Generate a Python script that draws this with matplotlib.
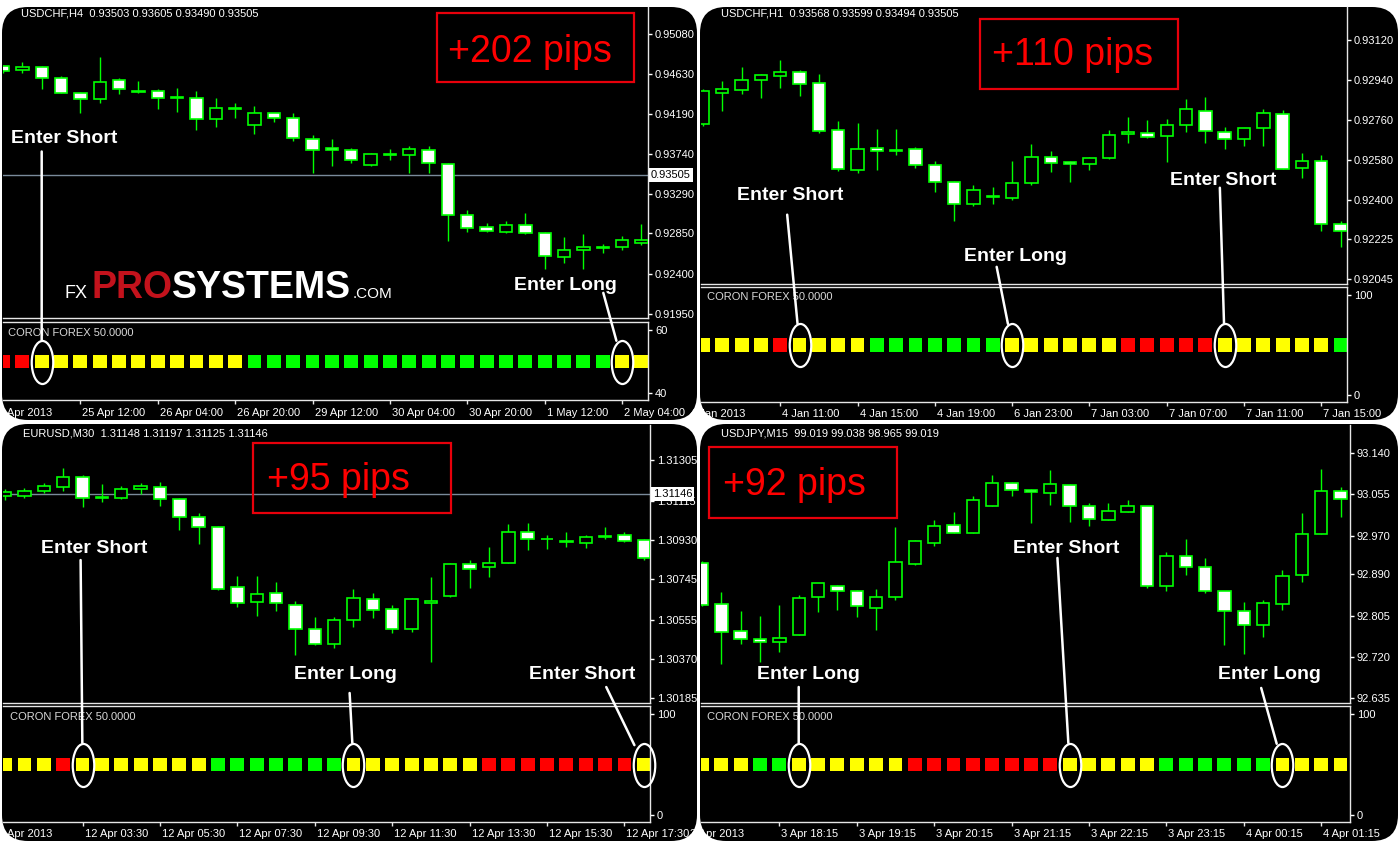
import numpy as np
import matplotlib
matplotlib.use("Agg")
import matplotlib.pyplot as plt
from matplotlib.patches import FancyBboxPatch, Rectangle, ConnectionPatch
from matplotlib.path import Path
from matplotlib.transforms import Affine2D, blended_transform_factory, offset_copy

plt.rcParams['font.family'] = ['Liberation Sans', 'DejaVu Sans']

W, H = 1400, 843
GREEN = '#00ff00'
SIG_COLORS = {'R': '#ff0000', 'Y': '#ffff00', 'G': '#00ff00'}

# ======================
# Data: USDCHF H4 (top left)
# ======================
tl_header = "USDCHF,H4  0.93503 0.93605 0.93490 0.93505"
tl_open = [0.94718, 0.94676, 0.94714, 0.94587, 0.94426, 0.94351, 0.94564, 0.94448, 0.94445, 0.94373,
           0.94370, 0.94127, 0.94254, 0.94059, 0.94194, 0.94142, 0.93910, 0.93805, 0.93783, 0.93614,
           0.93734, 0.93723, 0.93786, 0.93625, 0.93053, 0.92919, 0.92866, 0.92945, 0.92855, 0.92586,
           0.92668, 0.92690, 0.92694, 0.92743]
tl_high = [0.94733, 0.94770, 0.94725, 0.94613, 0.94433, 0.94819, 0.94587, 0.94557, 0.94463, 0.94482,
           0.94445, 0.94362, 0.94314, 0.94276, 0.94201, 0.94194, 0.93947, 0.93910, 0.93809, 0.93745,
           0.93790, 0.93827, 0.93827, 0.93640, 0.93109, 0.92967, 0.92986, 0.93079, 0.92863, 0.92810,
           0.92844, 0.92735, 0.92818, 0.92956]
tl_low = [0.94650, 0.94643, 0.94471, 0.94418, 0.94194, 0.94314, 0.94407, 0.94418, 0.94239, 0.94209,
          0.94003, 0.94044, 0.94138, 0.93962, 0.94097, 0.93884, 0.93521, 0.93603, 0.93640, 0.93603,
          0.93677, 0.93521, 0.93528, 0.92762, 0.92866, 0.92870, 0.92859, 0.92844, 0.92451, 0.92518,
          0.92451, 0.92631, 0.92668, 0.92717]
tl_close = [0.94665, 0.94714, 0.94590, 0.94426, 0.94351, 0.94549, 0.94463, 0.94430, 0.94362, 0.94366,
            0.94134, 0.94258, 0.94246, 0.94194, 0.94145, 0.93921, 0.93783, 0.93779, 0.93670, 0.93734,
            0.93727, 0.93790, 0.93633, 0.93061, 0.92911, 0.92881, 0.92949, 0.92855, 0.92593, 0.92668,
            0.92698, 0.92698, 0.92780, 0.92780]
tl_signal = list("RRYYYYYYYYYYYGGGGGGGGGGGGGGGGGGGYY")
tl_price_ticks = [0.95080, 0.94630, 0.94190, 0.93740, 0.93290, 0.92850, 0.92400, 0.91950]
tl_ind_ticks = [60, 40]
tl_last_price = 0.93505
tl_time_labels = ["24 Apr 2013", "25 Apr 12:00", "26 Apr 04:00", "26 Apr 20:00", "29 Apr 12:00",
                  "30 Apr 04:00", "30 Apr 20:00", "1 May 12:00", "2 May 04:00"]
tl_pips = "+202 pips"

# ======================
# Data: USDCHF H1 (top right)
# ======================
tr_header = "USDCHF,H1  0.93568 0.93599 0.93494 0.93505"
tr_open = [0.92740, 0.92883, 0.92895, 0.92938, 0.92958, 0.92977, 0.92928, 0.92715, 0.92535, 0.92635,
           0.92625, 0.92628, 0.92557, 0.92482, 0.92385, 0.92419, 0.92410, 0.92475, 0.92595, 0.92572,
           0.92563, 0.92590, 0.92695, 0.92703, 0.92688, 0.92736, 0.92800, 0.92707, 0.92673, 0.92725,
           0.92785, 0.92545, 0.92578, 0.92291]
tr_high = [0.92898, 0.92935, 0.92996, 0.92965, 0.93028, 0.92983, 0.92965, 0.92755, 0.92745, 0.92718,
           0.92718, 0.92640, 0.92574, 0.92485, 0.92470, 0.92460, 0.92575, 0.92653, 0.92623, 0.92575,
           0.92595, 0.92713, 0.92773, 0.92760, 0.92766, 0.92853, 0.92863, 0.92728, 0.92725, 0.92811,
           0.92803, 0.92610, 0.92605, 0.92306]
tr_low = [0.92733, 0.92800, 0.92875, 0.92860, 0.92905, 0.92868, 0.92700, 0.92530, 0.92520, 0.92535,
          0.92605, 0.92545, 0.92436, 0.92306, 0.92373, 0.92385, 0.92403, 0.92470, 0.92527, 0.92481,
          0.92535, 0.92583, 0.92658, 0.92680, 0.92571, 0.92706, 0.92658, 0.92632, 0.92643, 0.92643,
          0.92538, 0.92500, 0.92264, 0.92190]
tr_close = [0.92890, 0.92901, 0.92938, 0.92961, 0.92977, 0.92920, 0.92710, 0.92541, 0.92628, 0.92623,
            0.92622, 0.92560, 0.92481, 0.92385, 0.92448, 0.92416, 0.92478, 0.92595, 0.92568, 0.92563,
            0.92590, 0.92692, 0.92706, 0.92685, 0.92736, 0.92808, 0.92710, 0.92673, 0.92725, 0.92790,
            0.92541, 0.92578, 0.92291, 0.92261]
tr_signal = list("YYYYRYYYYGGGGGGGYYYYYYRRRRRYYYYYYG")
tr_price_ticks = [0.93120, 0.92940, 0.92760, 0.92580, 0.92400, 0.92225, 0.92045]
tr_ind_ticks = [100, 0]
tr_time_labels = ["4 Jan 2013", "4 Jan 11:00", "4 Jan 15:00", "4 Jan 19:00", "6 Jan 23:00",
                  "7 Jan 03:00", "7 Jan 07:00", "7 Jan 11:00", "7 Jan 15:00"]
tr_pips = "+110 pips"

# ======================
# Data: EURUSD M30 (bottom left)
# ======================
bl_header = "EURUSD,M30  1.31148 1.31197 1.31125 1.31146"
bl_open = [1.31136, 1.31136, 1.31159, 1.31180, 1.31227, 1.31130, 1.31125, 1.31167, 1.31177, 1.31120,
           1.31036, 1.30992, 1.30707, 1.30639, 1.30678, 1.30623, 1.30513, 1.30440, 1.30553, 1.30650,
           1.30605, 1.30513, 1.30634, 1.30667, 1.30815, 1.30804, 1.30822, 1.30968, 1.30935, 1.30923,
           1.30916, 1.30943, 1.30953, 1.30929]
bl_high = [1.31167, 1.31172, 1.31198, 1.31266, 1.31234, 1.31192, 1.31183, 1.31195, 1.31203, 1.31128,
           1.31054, 1.30995, 1.30760, 1.30760, 1.30733, 1.30642, 1.30566, 1.30566, 1.30697, 1.30681,
           1.30623, 1.30658, 1.30757, 1.30819, 1.30835, 1.30898, 1.31004, 1.31010, 1.30953, 1.30965,
           1.30953, 1.30989, 1.30968, 1.30934]
bl_low = [1.31117, 1.31125, 1.31148, 1.31161, 1.31083, 1.31106, 1.31120, 1.31145, 1.31090, 1.30976,
          1.30910, 1.30694, 1.30612, 1.30573, 1.30597, 1.30388, 1.30435, 1.30420, 1.30518, 1.30561,
          1.30493, 1.30495, 1.30354, 1.30660, 1.30702, 1.30757, 1.30819, 1.30882, 1.30885, 1.30895,
          1.30893, 1.30934, 1.30921, 1.30835]
bl_close = [1.31156, 1.31159, 1.31184, 1.31227, 1.31128, 1.31126, 1.31167, 1.31184, 1.31120, 1.31036,
            1.30992, 1.30699, 1.30634, 1.30675, 1.30631, 1.30513, 1.30440, 1.30553, 1.30655, 1.30600,
            1.30513, 1.30652, 1.30644, 1.30816, 1.30791, 1.30822, 1.30968, 1.30934, 1.30932, 1.30920,
            1.30942, 1.30946, 1.30924, 1.30846]
bl_signal = list("YYYRYYYYYYYGGGGGGGYYYYYYYRRRRRRRRY")
bl_price_ticks = [1.31305, 1.31115, 1.30930, 1.30745, 1.30555, 1.30370, 1.30185]
bl_ind_ticks = [100, 0]
bl_last_price = 1.31146
bl_time_labels = ["12 Apr 2013", "12 Apr 03:30", "12 Apr 05:30", "12 Apr 07:30", "12 Apr 09:30",
                  "12 Apr 11:30", "12 Apr 13:30", "12 Apr 15:30", "12 Apr 17:30"]
bl_pips = "+95 pips"

# ======================
# Data: USDJPY M15 (bottom right)
# ======================
br_header = "USDJPY,M15  99.019 99.038 98.965 99.019"
br_open = [92.913, 92.829, 92.774, 92.757, 92.750, 92.765, 92.844, 92.866, 92.856, 92.821,
           92.843, 92.912, 92.954, 92.991, 92.975, 93.032, 93.078, 93.064, 93.057, 93.075,
           93.032, 93.002, 93.018, 93.032, 92.866, 92.929, 92.906, 92.856, 92.814, 92.786,
           92.829, 92.889, 92.973, 93.061]
br_high = [92.917, 92.853, 92.815, 92.805, 92.827, 92.848, 92.872, 92.869, 92.858, 92.860,
           92.987, 92.960, 93.002, 93.018, 93.052, 93.095, 93.081, 93.066, 93.106, 93.077,
           93.037, 93.037, 93.044, 93.032, 92.936, 92.963, 92.924, 92.856, 92.834, 92.838,
           92.899, 93.016, 93.108, 93.071]
br_low = [92.824, 92.706, 92.746, 92.709, 92.731, 92.765, 92.812, 92.816, 92.803, 92.776,
          92.838, 92.910, 92.948, 92.975, 92.975, 93.032, 93.052, 92.997, 93.033, 92.999,
          92.989, 93.002, 93.018, 92.863, 92.855, 92.889, 92.851, 92.745, 92.726, 92.762,
          92.817, 92.874, 92.973, 93.009]
br_close = [92.827, 92.772, 92.757, 92.750, 92.759, 92.841, 92.872, 92.856, 92.824, 92.843,
            92.915, 92.958, 92.989, 92.975, 93.044, 93.078, 93.063, 93.059, 93.076, 93.032,
            93.005, 93.020, 93.032, 92.866, 92.928, 92.906, 92.856, 92.814, 92.786, 92.832,
            92.887, 92.973, 93.061, 93.046]
br_signal = list("YYYGGYYYYYYRRRRRRRRYYYYYGGGGGGYYYY")
br_price_ticks = [93.140, 93.055, 92.970, 92.890, 92.805, 92.720, 92.635]
br_ind_ticks = [100, 0]
br_time_labels = ["3 Apr 2013", "3 Apr 18:15", "3 Apr 19:15", "3 Apr 20:15", "3 Apr 21:15",
                  "3 Apr 22:15", "3 Apr 23:15", "4 Apr 00:15", "4 Apr 01:15"]
br_pips = "+92 pips"


# ======================
# Helpers (pixel layout, y measured from the top)
# ======================
def fx(x):
    return x / W


def fy(y):
    return 1 - y / H


def rect(x0, y0, x1, y1):
    return [fx(x0), fy(y1), (x1 - x0) / W, (y1 - y0) / H]


ELLIPSE = Path.unit_circle().transformed(Affine2D().scale(0.5, 1.0))
AXIS_COLOR = '#e6e6e6'


def draw_panel(fig, p):
    x0, y0, x1, y1 = p['panel']
    bg = FancyBboxPatch((fx(x0), fy(y1)), (x1 - x0) / W, (y1 - y0) / H,
                        boxstyle=f"round,pad=0,rounding_size={26 / W}",
                        mutation_aspect=W / H, transform=fig.transFigure,
                        fc='black', ec='none', zorder=-5)
    fig.add_artist(bg)

    ax = fig.add_axes(rect(*p['main']))
    ind = fig.add_axes(rect(*p['ind']))
    n = len(p['open'])
    x = np.arange(n)

    for a in (ax, ind):
        a.set_facecolor('none')
        a.set_xlim(p['xlim'])
        a.spines['left'].set_visible(False)
        for s in ('right', 'top', 'bottom'):
            a.spines[s].set_color(AXIS_COLOR)
            a.spines[s].set_linewidth(1)
        a.yaxis.tick_right()
        a.tick_params(axis='y', colors='white', length=3, width=1, pad=2, labelsize=8)
    ax.spines['top'].set_visible(False)

    # candles
    o, h, l, c = (np.array(p[k]) for k in ('open', 'high', 'low', 'close'))
    ax.vlines(x, l, h, color=GREEN, lw=1, zorder=2)
    faces = ['white' if cc < oo else 'black' for oo, cc in zip(o, c)]
    ax.bar(x, np.abs(c - o), bottom=np.minimum(o, c), width=0.64,
           color=faces, edgecolor=GREEN, linewidth=1.2, zorder=3)
    ax.set_ylim(p['ylim'])
    ax.set_xticks([])
    ax.set_yticks(p['price_ticks'], [f"{v:.{p['dec']}f}" for v in p['price_ticks']])

    if p.get('last') is not None:
        ax.axhline(p['last'], color='#7a8a9a', lw=1, zorder=1)
        ax.annotate(f"{p['last']:.{p['dec']}f}", xy=(1, p['last']),
                    xycoords=('axes fraction', 'data'), xytext=(3, 0),
                    textcoords='offset pixels', ha='left', va='center',
                    fontsize=8, color='black', annotation_clip=False, zorder=6,
                    bbox=dict(boxstyle='square,pad=0.15', fc='white', ec='none'))

    # indicator row
    ind.set_ylim(p['ind_ylim'])
    ind.set_yticks(p['ind_ticks'])
    ind.scatter(x, np.full(n, 50), marker='s', s=100, linewidths=0,
                c=[SIG_COLORS[k] for k in p['signal']], zorder=2)
    ticks = list(range(4, n, 4))
    ind.set_xticks(ticks, [])
    ind.tick_params(axis='x', colors=AXIS_COLOR, length=3, width=1)

    # time labels, left aligned on the ticks, clipped by the rounded panel
    ty = fy(p['time_y'])
    base = blended_transform_factory(ind.transData, fig.transFigure)
    first = fig.text(p['xlim'][0], ty, p['time_labels'][0], fontsize=8, color='white',
                     ha='left', va='center',
                     transform=offset_copy(base, fig=fig, x=-11, y=0, units='dots'))
    first.set_clip_path(bg)
    for xt, lbl in zip(ticks, p['time_labels'][1:]):
        t = fig.text(xt, ty, lbl, fontsize=8, color='white', ha='left', va='center',
                     transform=offset_copy(base, fig=fig, x=2, y=0, units='dots'))
        t.set_clip_path(bg)

    # header and indicator name
    hx, hy = p['header_xy']
    fig.text(fx(hx), fy(hy), p['header'], fontsize=8, color='white', va='center')
    ix, iy = p['ind_label_xy']
    fig.text(fx(ix), fy(iy), "CORON FOREX 50.0000", fontsize=8, color='#d8d8d8', va='center')

    # profit box
    bx0, by0, bx1, by1 = p['pips_box']
    fig.add_artist(Rectangle((fx(bx0), fy(by1)), (bx1 - bx0) / W, (by1 - by0) / H,
                             transform=fig.transFigure, fill=False, ec='#e8000b', lw=1.6, zorder=6))
    px, py = p['pips_xy']
    fig.text(fx(px), fy(py), p['pips'], fontsize=27, color='#ff0000', va='baseline', zorder=7)

    # signal annotations
    for label, sig, tx, tyv, lx, ly in p['notes']:
        ax.text(tx, tyv, label, color='white', fontsize=14, fontweight='bold',
                ha='center', va='baseline', zorder=5)
        ind.plot(sig, 50, marker=ELLIPSE, ms=31, mfc='none', mec='white', mew=1.6,
                 clip_on=False, zorder=4)
        con = ConnectionPatch(xyA=(lx, ly), coordsA=ax.transData,
                              xyB=(sig, 50), coordsB=ind.transData,
                              color='white', lw=1.8, shrinkB=15.5, zorder=8)
        fig.add_artist(con)
    return ax, ind, bg


panels = [
    dict(panel=(2, 7, 697, 420), main=(3, 7, 648, 318), ind=(3, 322, 648, 400),
         xlim=(0.0, 33.34), ylim=(0.91905, 0.95383), ind_ylim=(37.78, 62.54), dec=5,
         open=tl_open, high=tl_high, low=tl_low, close=tl_close, signal=tl_signal,
         price_ticks=tl_price_ticks, ind_ticks=tl_ind_ticks, last=tl_last_price,
         time_labels=tl_time_labels, time_y=413, header=tl_header, header_xy=(21, 13),
         ind_label_xy=(8, 333), pips=tl_pips, pips_box=(437, 13, 634, 82), pips_xy=(448, 62),
         notes=[("Enter Short", 2, 3.16, 0.93863, 2.0, 0.93767),
                ("Enter Long", 32, 29.07, 0.92214, 31.03, 0.92186)]),
    dict(panel=(700, 7, 1398, 420), main=(701, 7, 1347, 284), ind=(701, 287, 1347, 402),
         xlim=(-0.10, 33.33), ylim=(0.92024, 0.93267), ind_ylim=(-7, 108), dec=5,
         open=tr_open, high=tr_high, low=tr_low, close=tr_close, signal=tr_signal,
         price_ticks=tr_price_ticks, ind_ticks=tr_ind_ticks, last=None,
         time_labels=tr_time_labels, time_y=414, header=tr_header, header_xy=(721, 14),
         ind_label_xy=(707, 297), pips=tr_pips, pips_box=(980, 19, 1178, 89), pips_xy=(992, 65),
         notes=[("Enter Short", 5, 4.52, 0.92402, 4.36, 0.92335),
                ("Enter Long", 16, 16.18, 0.92125, 15.2, 0.92101),
                ("Enter Short", 27, 26.9, 0.92470, 26.75, 0.92456)]),
    dict(panel=(2, 424, 697, 841), main=(3, 425, 650, 703), ind=(3, 706, 650, 822),
         xlim=(-0.11, 33.32), ylim=(1.30163, 1.31470), ind_ylim=(-6.9, 107.9), dec=5,
         open=bl_open, high=bl_high, low=bl_low, close=bl_close, signal=bl_signal,
         price_ticks=bl_price_ticks, ind_ticks=bl_ind_ticks, last=bl_last_price,
         time_labels=bl_time_labels, time_y=834, header=bl_header, header_xy=(23, 433),
         ind_label_xy=(10, 717), pips=bl_pips, pips_box=(253, 443, 451, 513), pips_xy=(267, 490),
         notes=[("Enter Short", 4, 4.6, 1.30868, 3.9, 1.30835),
                ("Enter Long", 18, 17.6, 1.30276, 17.8, 1.30210),
                ("Enter Short", 33, 29.8, 1.30276, 31.06, 1.30238)]),
    dict(panel=(700, 424, 1398, 841), main=(701, 425, 1350, 703), ind=(701, 706, 1350, 822),
         xlim=(-0.05, 33.49), ylim=(92.625, 93.198), ind_ylim=(-6.9, 107.9), dec=3,
         open=br_open, high=br_high, low=br_low, close=br_close, signal=br_signal,
         price_ticks=br_price_ticks, ind_ticks=br_ind_ticks, last=None,
         time_labels=br_time_labels, time_y=834, header=br_header, header_xy=(721, 433),
         ind_label_xy=(707, 717), pips=br_pips, pips_box=(709, 447, 897, 518), pips_xy=(723, 495),
         notes=[("Enter Long", 5, 5.49, 92.675, 5.0, 92.658),
                ("Enter Short", 19, 18.8, 92.935, 18.37, 92.924),
                ("Enter Long", 30, 29.34, 92.675, 28.9, 92.656)]),
]

fig = plt.figure(figsize=(W / 100, H / 100), dpi=100, facecolor='white')
for p in panels:
    draw_panel(fig, p)

# watermark on the first chart
base_y = fy(298)
t_fx = fig.text(fx(65), base_y, "FX", fontsize=13, color='white', va='baseline', zorder=7)
pieces = [("PRO", 27, 'bold', '#c3121c', 3), ("SYSTEMS", 27, 'bold', 'white', 0),
          (".COM", 11, 'normal', 'white', 1)]
prev = t_fx
for txt, size, weight, col, gap in pieces:
    prev = fig.add_artist(matplotlib.text.Annotation(
        txt, xy=(1, base_y), xycoords=(prev, 'figure fraction'),
        xytext=(gap, 0), textcoords='offset pixels', ha='left', va='baseline',
        fontsize=size, fontweight=weight, color=col, zorder=7))

fig.savefig("out.png", dpi=100, facecolor='white')
